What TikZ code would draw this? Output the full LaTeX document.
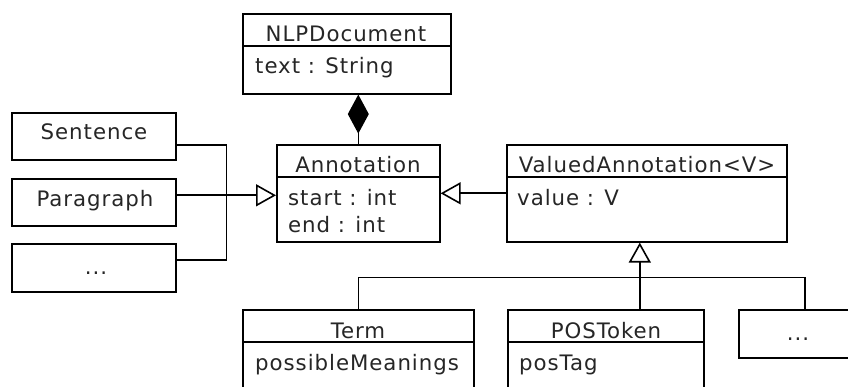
\documentclass[tikz,border=0pt]{standalone}
\usepackage{fontspec}
\newfontfamily\umlfont[LetterSpace=4.5]{DejaVu Sans}
\usetikzlibrary{arrows.meta,calc}
\begin{document}
\begin{tikzpicture}[x=1pt,y=-1pt,
  box/.style={draw, line width=1.6pt, inner sep=0pt, anchor=north west},
  sepline/.style={line width=1.6pt},
  txt/.style={inner sep=0pt, font=\umlfont\fontsize{21.3}{25}\selectfont, text=black!85},
  conn/.style={line width=1.6pt},
  gen/.style={-{Triangle[open,length=20pt,width=22pt,fill=white]}},
  comp/.style={-{Diamond[length=39pt,width=21pt]}}]
\useasboundingbox (0,0) rectangle (848,387);
\fill[white] (0,0) rectangle (848,387);
\clip (0,0) rectangle (848,387);

% NLPDocument
\node[box, minimum width=208pt, minimum height=80pt] (nlp) at (242,13) {};
\draw[sepline] (242,46) -- (450,46);
\node[txt, anchor=base] (nlpT) at (346,42) {NLPDocument};
\node[txt, anchor=base west] (nlpA) at (255,74) {text : String};

% Annotation
\node[box, minimum width=163pt, minimum height=97pt] (ann) at (276,144) {};
\draw[sepline] (276,177) -- (439,177);
\node[txt, anchor=base] (annT) at (358,173) {Annotation};
\node[txt, anchor=base west] (annA) at (288,206) {start : int};
\node[txt, anchor=base west] (annB) at (288,233) {end : int};

% ValuedAnnotation
\node[box, minimum width=280pt, minimum height=97pt] (val) at (506,144) {};
\draw[sepline] (506,177) -- (786,177);
\node[txt, anchor=base] (valT) at (647,173) {ValuedAnnotation<V>};
\node[txt, anchor=base west] (valA) at (517,206) {value : V};

% left subclasses
\node[box, minimum width=164pt, minimum height=47pt] (sent) at (11,112) {};
\node[txt, anchor=base] (sentT) at (94,140) {Sentence};
\node[box, minimum width=164pt, minimum height=47pt] (para) at (11,178) {};
\node[txt, anchor=base] (paraT) at (95,207) {Paragraph};
\node[box, minimum width=164pt, minimum height=48pt] (dotsA) at (11,243) {};
\node[txt, anchor=base] (dotsAT) at (96,274) {...};

% bottom subclasses
\node[box, minimum width=231pt, minimum height=100pt] (term) at (242,309) {};
\draw[sepline] (242,342) -- (473,342);
\node[txt, anchor=base] (termT) at (358,338) {Term};
\node[txt, anchor=base west] (termA) at (255,370) {possibleMeanings};

\node[box, minimum width=196pt, minimum height=100pt] (pos) at (507,309) {};
\draw[sepline] (507,342) -- (703,342);
\node[txt, anchor=base] (posT) at (606,338) {POSToken};
\node[txt, anchor=base west] (posA) at (519,370) {posTag};

\node[box, minimum width=120pt, minimum height=48pt] (dotsB) at (738,309) {};
\node[txt, anchor=base] (dotsBT) at (798,340) {...};

% connectors
\draw[conn,comp] (ann.north) -- (ann.north |- nlp.south);

\coordinate (jn) at ($([yshift=7pt]para.east)+(50,0)$);
\draw[conn,gen] ([yshift=7pt]para.east) -- ([yshift=7pt]para.east -| ann.west);
\draw[conn] ([yshift=-8.5pt]sent.east) -| (jn);
\draw[conn] ([yshift=8pt]dotsA.east) -| (jn);

\draw[conn,gen] (val.west) -- (val.west -| ann.east);

\coordinate (bus) at ([xshift=-7pt,yshift=-35pt]val.south);
\draw[conn,gen] (bus |- pos.north) -- (bus |- val.south);
\draw[conn] (term.north) |- (bus) -| ([xshift=6pt]dotsB.north);
\end{tikzpicture}
\end{document}
